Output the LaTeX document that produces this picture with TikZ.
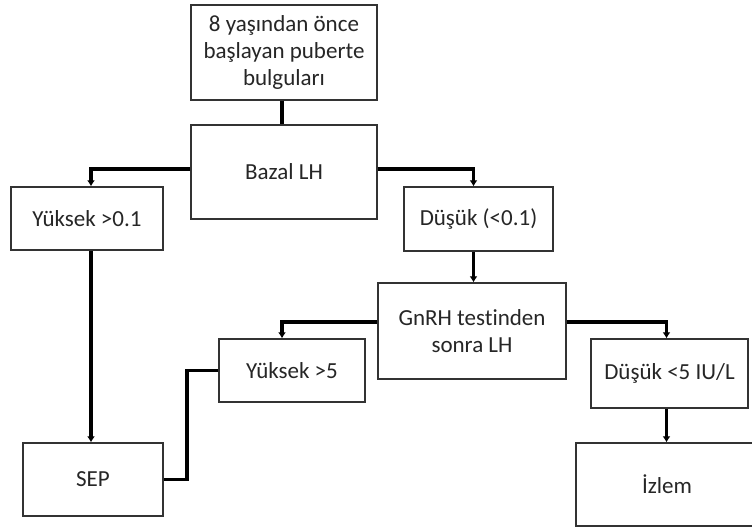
\documentclass[tikz,border=0pt]{standalone}
\usepackage{fontspec}
\setmainfont{Carlito}[Ligatures={NoCommon}]
\usetikzlibrary{arrows.meta}
\begin{document}
\begin{tikzpicture}[x=1pt,y=-1pt,
  box/.style={draw=black!80,line width=1.3pt,align=center,inner sep=2pt,
    font=\fontsize{23}{27}\selectfont,text=black!85},
  conn/.style={line width=3.4pt,black},
  arr/.style={conn,-{Latex[length=6pt,width=8pt]}}]
\useasboundingbox (0,0) rectangle (752,527);
\clip (0,0) rectangle (752,527);
\fill[white] (0,0) rectangle (752,527);
\node[box,minimum width=186pt,minimum height=95pt] (top) at (284,52.5) {8 yaşından önce\\başlayan puberte\\bulguları};
\node[box,minimum width=186pt,minimum height=94pt] (bazal) at (284,172) {Bazal LH};
\node[box,minimum width=152pt,minimum height=63pt] (yk1) at (87,218.5) {Yüksek >0.1};
\node[box,minimum width=149pt,minimum height=64pt] (dk1) at (478.5,219) {Düşük (<0.1)};
\node[box,minimum width=188pt,minimum height=96pt] (gnrh) at (472,331) {GnRH testinden\\sonra LH};
\node[box,minimum width=146pt,minimum height=63pt] (yk5) at (292,370.5) {Yüksek >5};
\node[box,minimum width=157pt,minimum height=69pt] (dk5) at (669.5,373.5) {Düşük <5 IU/L};
\node[box,minimum width=140pt,minimum height=73pt] (sep) at (93,479.5) {SEP};
\node[box,minimum width=182pt,minimum height=83pt] (izlem) at (667,484.5) {İzlem};
\coordinate (bend) at (187,420);
\draw[conn] ([xshift=-2pt]top.south) -- ([xshift=-2pt]bazal.north);
\draw[arr] ([yshift=3pt]bazal.west) -| ([xshift=4pt]yk1.north);
\draw[arr] ([yshift=3pt]bazal.east) -| ([xshift=-5pt]dk1.north);
\draw[arr] ([xshift=-5pt]dk1.south) -- ([xshift=-5pt]dk1.south |- gnrh.north);
\draw[arr] ([yshift=9pt]gnrh.west) -| ([xshift=-10pt]yk5.north);
\draw[arr] ([yshift=9pt]gnrh.east) -| ([xshift=-3pt]dk5.north);
\draw[arr] ([xshift=-3pt]dk5.south) -- ([xshift=-3pt]dk5.south |- izlem.north);
\draw[arr] ([xshift=4pt]yk1.south) -- ([xshift=4pt]yk1.south |- sep.north);
\draw[conn] (yk5.west) -- (yk5.west -| bend) -- (bend |- sep.east) -- (sep.east);
\end{tikzpicture}
\end{document}
